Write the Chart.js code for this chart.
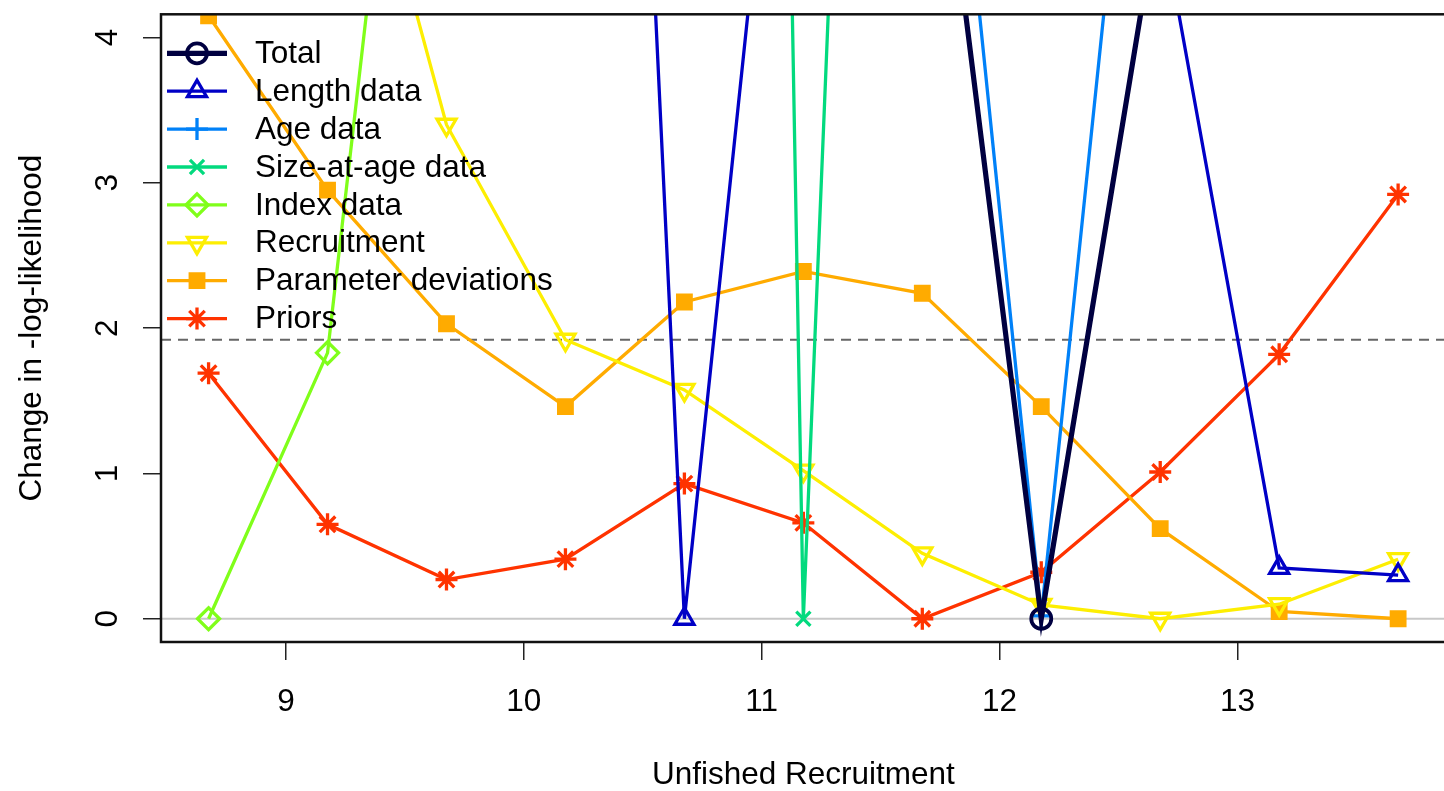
<!DOCTYPE html>
<html><head><meta charset="utf-8">
<script src="https://cdn.jsdelivr.net/npm/chart.js@4.4.1/dist/chart.umd.min.js"></script>
<style>
html,body{margin:0;padding:0;overflow:hidden;background:#fff;width:1444px;height:791px}
#wrap{position:absolute;left:0;top:0;width:1460px;height:791px}
</style></head>
<body><div id="wrap"><canvas id="c" width="1460" height="791"></canvas></div>
<script>
// ---- data ----
const xValues = [8.675, 9.175, 9.675, 10.175, 10.675, 11.175, 11.675, 12.175, 12.675, 13.175, 13.675];
const seriesNames = ["Total", "Length data", "Age data", "Size-at-age data", "Index data", "Recruitment", "Parameter deviations", "Priors"];
const totalVals    = [38, 29, 21, 15, 10.5, 8.2, 6.55, 0, 4.98, 8.5, 12.5];
const lengthVals   = [40, 32, 24, 17.2, 0, 7.8, 12, 9, 4.87, 0.35, 0.30];
const ageVals      = [45, 36, 28, 21, 16, 12, 8.0, 0.02, 7.9, 13, 18];
const sizeAgeVals  = [70, 64, 58, 52, 45, 0, 19.9, 24, 28, 31, 35];
const indexVals    = [0, 1.83, 8.97, 15, 20, 24, 27, 29, 31, 33, 35];
const recruitVals  = [11, 6.43, 3.40, 1.92, 1.575, 1.02, 0.45, 0.095, 0, 0.10, 0.41];
const paramDevVals = [4.15, 2.95, 2.03, 1.46, 2.18, 2.39, 2.24, 1.46, 0.62, 0.05, 0];
const priorVals    = [1.69, 0.65, 0.27, 0.41, 0.93, 0.66, 0, 0.32, 1.01, 1.82, 2.92];
const xTicks = [9, 10, 11, 12, 13];
const yTicks = [0, 1, 2, 3, 4];
const refLineValue = 1.92;
const xTitle = "Unfished Recruitment";
const yTitle = "Change in -log-likelihood";

// ---- styling ----
const FONT = '"Liberation Sans", Arial, Helvetica, sans-serif';
const FS = 31.5;
const colors = ["#000040", "#0000C6", "#0081F8", "#02DA7E", "#80FE1A", "#FDEE02", "#FFAB00", "#FF3300"];
const styles = [
  {ps: "circle", r: 10, bw: 3.8, lw: 5.2, fill: false},
  {ps: "triangle", r: 11, bw: 3.3, lw: 3.3, fill: false},
  {ps: "cross", r: 11, bw: 3.3, lw: 3.3, fill: false},
  {ps: "crossRot", r: 10, bw: 3.3, lw: 3.3, fill: false},
  {ps: "rectRot", r: 11, bw: 3.3, lw: 3.3, fill: false},
  {ps: "triangle", r: 11, bw: 3.3, lw: 3.3, fill: false, rot: 180},
  {ps: "rect", r: 10.5, bw: 2, lw: 3.3, fill: true},
  {ps: "star", r: 11, bw: 3.3, lw: 3.3, fill: false}
];
const allVals = [totalVals, lengthVals, ageVals, sizeAgeVals, indexVals, recruitVals, paramDevVals, priorVals];

const datasets = allVals.map((vals, i) => ({
  label: seriesNames[i],
  data: xValues.map((x, j) => ({x: x, y: vals[j]})),
  borderColor: colors[i],
  borderWidth: styles[i].lw,
  pointStyle: styles[i].ps,
  pointRadius: styles[i].r,
  pointRotation: styles[i].rot || 0,
  pointBorderWidth: styles[i].bw,
  pointBorderColor: colors[i],
  pointBackgroundColor: styles[i].fill ? colors[i] : "rgba(0,0,0,0)",
  tension: 0,
  fill: false
}));

const decor = {
  id: "decor",
  beforeDatasetsDraw(chart) {
    const {ctx, chartArea: a, scales: {y}} = chart;
    ctx.save();
    ctx.beginPath(); ctx.rect(a.left, a.top, a.right - a.left, a.bottom - a.top); ctx.clip();
    let py = y.getPixelForValue(0);
    ctx.strokeStyle = "#c8c8c8"; ctx.lineWidth = 2;
    ctx.beginPath(); ctx.moveTo(a.left, py); ctx.lineTo(a.right, py); ctx.stroke();
    py = y.getPixelForValue(refLineValue);
    ctx.strokeStyle = "#666"; ctx.lineWidth = 2; ctx.setLineDash([10, 7]);
    ctx.beginPath(); ctx.moveTo(a.left, py); ctx.lineTo(a.right, py); ctx.stroke();
    ctx.restore();
  },
  afterDatasetsDraw(chart) {
    const {ctx, chartArea: a} = chart;
    ctx.save();
    const x0 = a.left + 6, x1 = a.left + 66, xm = a.left + 36, xt = a.left + 94;
    chart.data.datasets.forEach((ds, i) => {
      const yy = a.top + 39 + 37.9 * i;
      ctx.setLineDash([]);
      ctx.strokeStyle = ds.borderColor; ctx.lineWidth = ds.borderWidth;
      ctx.beginPath(); ctx.moveTo(x0, yy); ctx.lineTo(x1, yy); ctx.stroke();
      ctx.fillStyle = ds.pointBackgroundColor; ctx.strokeStyle = ds.pointBorderColor; ctx.lineWidth = ds.pointBorderWidth;
      Chart.helpers.drawPoint(ctx, {pointStyle: ds.pointStyle, rotation: ds.pointRotation, radius: ds.pointRadius, borderWidth: ds.pointBorderWidth}, xm, yy);
      ctx.fillStyle = "#000"; ctx.font = FS + "px " + FONT; ctx.textBaseline = "middle"; ctx.textAlign = "left";
      ctx.fillText(ds.label, xt, yy + 1);
    });
    ctx.restore();
  },
  afterDraw(chart) {
    const {ctx, chartArea: a} = chart;
    ctx.save();
    ctx.strokeStyle = "#111"; ctx.lineWidth = 2.5;
    ctx.strokeRect(a.left, a.top, a.right - a.left, a.bottom - a.top);
    ctx.restore();
  }
};

new Chart(document.getElementById("c"), {
  type: "line",
  data: {datasets: datasets},
  plugins: [decor],
  options: {
    responsive: false,
    animation: false,
    devicePixelRatio: 1,
    layout: {padding: {top: 6, right: 3, left: 0, bottom: 0}},
    plugins: {legend: {display: false}, tooltip: {enabled: false}},
    scales: {
      x: {
        type: "linear", min: 8.475, max: 13.875,
        afterBuildTicks: s => { s.ticks = xTicks.map(v => ({value: v})); },
        afterFit: s => { s.height = 149; s.paddingLeft = 0; s.paddingRight = 0; },
        grid: {drawOnChartArea: false, drawTicks: true, tickLength: 18, color: "#222", lineWidth: 1.5},
        border: {display: false},
        ticks: {color: "#000", font: {family: FONT, size: FS}, padding: 23, maxRotation: 0, autoSkip: false},
        title: {display: true, text: xTitle, color: "#000", font: {family: FONT, size: FS, lineHeight: 1.0}, padding: {top: 0, bottom: 0}}
      },
      y: {
        type: "linear", min: -0.16, max: 4.16,
        afterBuildTicks: s => { s.ticks = yTicks.map(v => ({value: v})); },
        afterFit: s => { s.width = 161; s.paddingTop = 0; s.paddingBottom = 0; },
        grid: {drawOnChartArea: false, drawTicks: true, tickLength: 18, color: "#222", lineWidth: 1.5},
        border: {display: false},
        ticks: {color: "#000", font: {family: FONT, size: FS}, padding: 26, minRotation: 90, maxRotation: 90, crossAlign: "center", autoSkip: false},
        title: {display: true, text: yTitle, color: "#000", font: {family: FONT, size: FS}, padding: {top: 13, bottom: 0}}
      }
    }
  }
});
</script>
</body></html>
